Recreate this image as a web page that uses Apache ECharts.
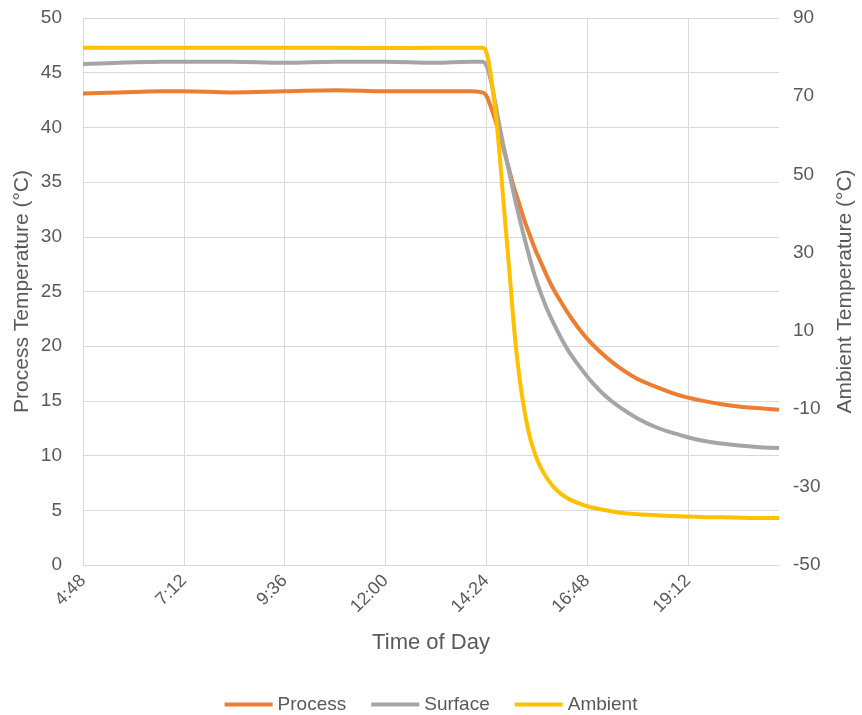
<!DOCTYPE html>
<html>
<head>
<meta charset="utf-8">
<script src="https://cdn.jsdelivr.net/npm/echarts@6/dist/echarts.min.js"></script>
<style>
html,body{margin:0;padding:0;background:#fff;}
#chart{width:862px;height:715px;}
</style>
</head>
<body>
<div id="chart"></div>
<script>
// Time of day in minutes after midnight
var times = [288, 340, 400, 432, 500, 576, 650, 720, 790, 840, 858, 863, 868, 873, 878, 883, 888, 893, 898, 903, 908, 914, 920, 927, 934, 941, 950, 960, 972, 985, 1000, 1015, 1035, 1055, 1080, 1110, 1140, 1170, 1200, 1230, 1260, 1282];

var processTemp = [43.1, 43.2, 43.3, 43.3, 43.2, 43.3, 43.4, 43.3, 43.3, 43.3, 43.2, 43.0, 42.3, 41.4, 40.4, 39.3, 38.2, 37.0, 35.8, 34.6, 33.6, 32.4, 31.2, 30.0, 28.8, 27.8, 26.5, 25.2, 23.9, 22.6, 21.3, 20.2, 19.0, 18.0, 17.0, 16.2, 15.5, 15.05, 14.7, 14.45, 14.3, 14.2];

var surfaceTemp = [45.8, 45.9, 46.0, 46.0, 46.0, 45.9, 46.0, 46.0, 45.9, 46.0, 46.0, 45.8, 44.9, 43.5, 41.8, 40.1, 38.5, 37.0, 35.5, 34.0, 32.6, 31.0, 29.5, 27.8, 26.3, 25.0, 23.5, 22.1, 20.6, 19.2, 17.9, 16.7, 15.4, 14.4, 13.4, 12.5, 11.9, 11.4, 11.1, 10.9, 10.75, 10.7];

var ambientTemp = [82.4, 82.4, 82.4, 82.4, 82.4, 82.4, 82.4, 82.3, 82.4, 82.4, 82.4, 81.8, 78.0, 72.0, 64.5, 55.0, 44.0, 33.5, 23.0, 12.0, 3.0, -5.5, -12.0, -17.8, -21.8, -24.8, -27.6, -30.0, -32.0, -33.4, -34.5, -35.3, -36.0, -36.6, -37.0, -37.3, -37.5, -37.7, -37.8, -37.9, -38.0, -38.0];

var seriesNames = ['Process', 'Surface', 'Ambient'];
var seriesColors = ['#ED7D31', '#A5A5A5', '#FFC000'];

var xMin = 288, xMax = 1282, xStep = 144;
var leftMin = 0, leftMax = 50, leftStep = 5;
var rightMin = -50, rightMax = 90, rightStep = 20;

function pairs(vals) {
  return times.map(function (t, i) { return [t, vals[i]]; });
}
function fmtTime(v) {
  var h = Math.floor(v / 60), m = Math.round(v % 60);
  return h + ':' + (m < 10 ? '0' + m : m);
}

var FONT = '"Liberation Sans", Arial, sans-serif';
var TXT = '#595959';
var GRID = '#D9D9D9';

function lineSeries(i, vals, axisIdx) {
  return {
    name: seriesNames[i],
    type: 'line',
    yAxisIndex: axisIdx,
    data: pairs(vals),
    showSymbol: false,
    smooth: 0.4,
    lineStyle: {width: 4, color: seriesColors[i]},
    itemStyle: {color: seriesColors[i]}
  };
}

var chart = echarts.init(document.getElementById('chart'), null, {renderer: 'canvas'});
chart.setOption({
  animation: false,
  backgroundColor: '#ffffff',
  color: seriesColors,
  grid: {left: 83, right: 83, top: 18, bottom: 150, containLabel: false, outerBoundsMode: 'none'},
  legend: {
    data: seriesNames,
    top: 690,
    left: 'center',
    icon: 'rect',
    itemWidth: 48,
    itemHeight: 4,
    itemGap: 25,
    textStyle: {color: TXT, fontSize: 19, fontFamily: FONT}
  },
  xAxis: {
    type: 'value',
    min: xMin,
    max: xMax,
    interval: xStep,
    name: 'Time of Day',
    nameLocation: 'middle',
    nameGap: 67,
    nameMoveOverlap: false,
    nameTextStyle: {color: TXT, fontSize: 22, fontFamily: FONT},
    axisLine: {show: true, lineStyle: {color: GRID, width: 1}},
    axisTick: {show: false},
    axisLabel: {
      rotate: 45,
      color: TXT,
      fontSize: 18,
      fontFamily: FONT,
      margin: 13,
      showMaxLabel: false,
      formatter: fmtTime
    },
    splitLine: {show: true, showMaxLine: false, lineStyle: {color: GRID, width: 1}}
  },
  yAxis: [{
    type: 'value',
    min: leftMin,
    max: leftMax,
    interval: leftStep,
    position: 'left',
    name: 'Process Temperature (°C)',
    nameLocation: 'middle',
    nameRotate: 90,
    nameGap: 50,
    nameMoveOverlap: false,
    nameTextStyle: {color: TXT, fontSize: 21, fontFamily: FONT},
    axisLine: {show: false},
    axisTick: {show: false},
    axisLabel: {color: TXT, fontSize: 19, fontFamily: FONT, margin: 21},
    splitLine: {show: true, lineStyle: {color: GRID, width: 1}}
  }, {
    type: 'value',
    min: rightMin,
    max: rightMax,
    interval: rightStep,
    position: 'right',
    name: 'Ambient Temperature (°C)',
    nameLocation: 'middle',
    nameRotate: 90,
    nameGap: 56,
    nameMoveOverlap: false,
    nameTextStyle: {color: TXT, fontSize: 21, fontFamily: FONT},
    axisLine: {show: false},
    axisTick: {show: false},
    axisLabel: {color: TXT, fontSize: 19, fontFamily: FONT, margin: 14},
    splitLine: {show: false}
  }],
  series: [
    lineSeries(0, processTemp, 0),
    lineSeries(1, surfaceTemp, 0),
    lineSeries(2, ambientTemp, 1)
  ]
});
</script>
</body>
</html>
